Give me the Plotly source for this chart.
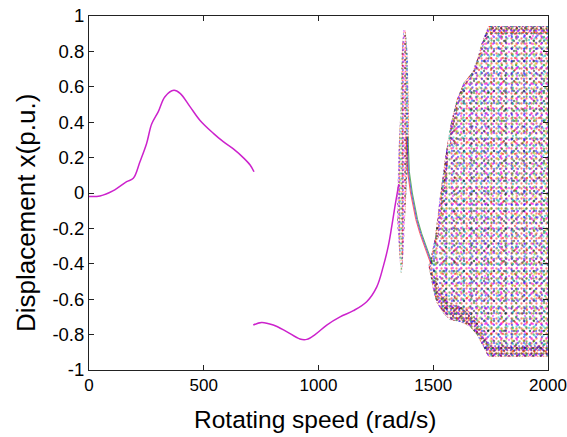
import plotly.graph_objects as go

# ---- data ----
seg1_x = [0, 48, 106, 164, 193, 222, 251, 273, 302, 331, 370, 397, 440, 484, 542, 585, 629, 672, 702, 719]
seg1_y = [-0.02, -0.017, 0.013, 0.064, 0.083, 0.177, 0.28, 0.39, 0.46, 0.544, 0.58, 0.563, 0.488, 0.41, 0.337, 0.29, 0.249, 0.2, 0.158, 0.12]

seg2_x = [716, 752, 803, 861, 919, 949, 985, 1036, 1094, 1152, 1210, 1254, 1282, 1304, 1319, 1333, 1343, 1350]
seg2_y = [-0.746, -0.731, -0.746, -0.783, -0.825, -0.827, -0.80, -0.746, -0.70, -0.665, -0.614, -0.53, -0.416, -0.30, -0.19, -0.077, 0.0, 0.05]

# narrow resonance spike (outline of the point band)
spike_x = [1358, 1342, 1348, 1355, 1362, 1370, 1380, 1388, 1395, 1391, 1384, 1377, 1370, 1363]
spike_y = [-0.45, -0.15, 0.225, 0.41, 0.79, 0.92, 0.92, 0.79, 0.41, 0.225, 0.035, -0.15, -0.34, -0.45]

# decaying branch after the spike
tail_x = [1386, 1392, 1405, 1428, 1446, 1464, 1480, 1493]
tail_y = [0.32, 0.12, 0.0, -0.15, -0.23, -0.30, -0.36, -0.40]

# envelope of the chaotic region
cloud_x = [1480, 1500, 1508, 1529, 1551, 1573, 1602, 1631, 1667, 1690, 1711, 1740, 2000,
           2000, 1740, 1718, 1689, 1660, 1617, 1573, 1544, 1515, 1500, 1485]
cloud_y = [-0.42, -0.30, -0.25, -0.02, 0.19, 0.375, 0.525, 0.62, 0.676, 0.75, 0.846, 0.943, 0.943,
           -0.925, -0.925, -0.868, -0.80, -0.755, -0.727, -0.717, -0.68, -0.62, -0.55, -0.45]

# denser band along the lower edge of the chaotic region
band_x = [1478, 1500, 1530, 1573, 1617, 1660, 1689, 1718, 1745, 2000,
          2000, 1740, 1718, 1689, 1660, 1617, 1573, 1544, 1515, 1500, 1485]
band_y = [-0.40, -0.45, -0.55, -0.62, -0.64, -0.67, -0.72, -0.80, -0.86, -0.86,
          -0.925, -0.925, -0.868, -0.80, -0.755, -0.727, -0.717, -0.68, -0.62, -0.55, -0.45]

# denser band along the left edge of the chaotic region
edge_x = [1480, 1500, 1508, 1529, 1551, 1573, 1602, 1631, 1667, 1690, 1711, 1740,
          1755, 1722, 1700, 1680, 1645, 1615, 1588, 1566, 1545, 1524, 1505, 1490]
edge_y = [-0.42, -0.30, -0.25, -0.02, 0.19, 0.375, 0.525, 0.62, 0.676, 0.75, 0.846, 0.943,
          0.943, 0.846, 0.75, 0.676, 0.62, 0.525, 0.375, 0.19, -0.02, -0.25, -0.30, -0.42]

# dense strip along the upper flat edge
top_x = [1740, 2000, 2000, 1750]
top_y = [0.943, 0.943, 0.90, 0.90]

x_ticks = [0, 500, 1000, 1500, 2000]
y_ticks = [-1, -0.8, -0.6, -0.4, -0.2, 0, 0.2, 0.4, 0.6, 0.8, 1]
y_ticktext = ["-1", "-0.8", "-0.6", "-0.4", "-0.2", "0", "0.2", "0.4", "0.6", "0.8", "1"]

dot_colors = ["#ff0000", "#0000ff", "#008000", "#ff00ff", "#00bfbf", "#000000", "#d8d800"]
cloud_sizes = [5, 6, 7, 8, 9, 10, 11, 12, 13, 14, 15, 16, 17, 19]
dense_sizes = [3, 4, 5, 6, 7, 8, 9, 11, 13]

MAG = "#cc22cc"
FONT = "Liberation Sans, Arial, sans-serif"
fig = go.Figure()


def pattern_poly(xs, ys, sizes, r=1.0):
    for i, s in enumerate(sizes):
        c = dot_colors[i % len(dot_colors)]
        fig.add_trace(go.Scatter(
            x=xs, y=ys, mode="none", fill="toself", fillcolor="rgba(0,0,0,0)",
            fillpattern=dict(shape=".", fgcolor=c, bgcolor="rgba(0,0,0,0)",
                             size=s, solidity=min(0.5, 3.14 * r * r / (s * s)), fillmode="overlay"),
            hoverinfo="skip", showlegend=False))


pattern_poly(cloud_x, cloud_y, cloud_sizes, r=1.15)
pattern_poly(band_x, band_y, dense_sizes)
pattern_poly(edge_x, edge_y, dense_sizes)
pattern_poly(top_x, top_y, dense_sizes)
pattern_poly(spike_x, spike_y, dense_sizes)

for off, col in [(0, "#0000ff"), (4, "#008000"), (-4, "#ff0000")]:
    fig.add_trace(go.Scatter(x=[v + off for v in tail_x], y=tail_y, mode="lines",
                             line=dict(color=col, width=1), opacity=0.6,
                             hoverinfo="skip", showlegend=False))

for xs, ys in [(seg1_x, seg1_y), (seg2_x, seg2_y)]:
    fig.add_trace(go.Scatter(x=xs, y=ys, mode="lines", line=dict(color=MAG, width=1.5, shape="spline"),
                             hoverinfo="skip", showlegend=False))

axis_common = dict(showgrid=False, zeroline=False, showline=True, linecolor="#222222", linewidth=1,
                   mirror="ticks", ticks="inside", ticklen=5, tickcolor="#222222", automargin=False,
                   ticklabeloverflow="allow")

fig.update_layout(
    width=567, height=437,
    margin=dict(l=89, r=19, t=16, b=67, autoexpand=False),
    paper_bgcolor="white", plot_bgcolor="white",
    xaxis=dict(range=[0, 2000], tickvals=x_ticks, ticktext=[str(v) for v in x_ticks],
               tickfont=dict(family=FONT, size=17, color="black"), **axis_common),
    yaxis=dict(range=[-1, 1], tickvals=y_ticks, ticktext=y_ticktext,
               tickfont=dict(family=FONT, size=18.5, color="black"), **axis_common),
    annotations=[
        dict(text="Rotating speed (rad/s)", xref="paper", yref="paper", x=0.492, y=-0.141,
             xanchor="center", yanchor="middle", showarrow=False,
             font=dict(family=FONT, size=24.5, color="black")),
        dict(text="Displacement x(p.u.)", xref="paper", yref="paper", x=-0.137, y=0.4435,
             xanchor="center", yanchor="middle", showarrow=False, textangle=-90,
             font=dict(family=FONT, size=26, color="black")),
    ],
)

fig.write_html("out.html")
